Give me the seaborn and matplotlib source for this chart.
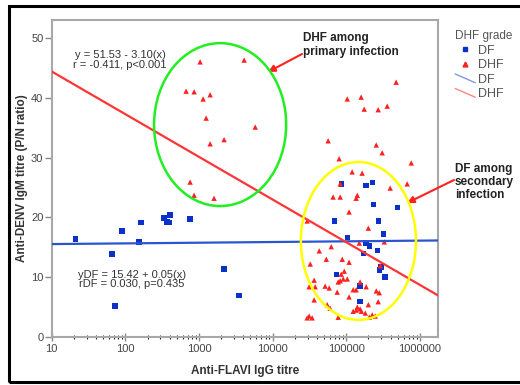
import numpy as np
import pandas as pd
import matplotlib.pyplot as plt
import seaborn as sns
from matplotlib.lines import Line2D
from matplotlib.patches import Ellipse, Rectangle
from matplotlib.legend_handler import HandlerBase

# DF cases: anti-FLAVI IgG titre vs anti-DENV IgM P/N ratio
df_titre = [21, 66, 72, 90, 163, 153, 336, 369, 393, 405, 757, 2190, 3510,
            232800, 493000, 68700, 272000, 318000, 103000, 186000, 205000,
            263000, 170000, 280000, 297000, 337000, 72900, 154000, 154000,
            85300, 186000, 225000]
df_pn = [16.4, 13.9, 5.2, 17.7, 19.1, 15.9, 19.9, 19.2, 19.1, 20.4, 19.7, 11.4, 6.9,
         22.2, 21.6, 19.4, 19.4, 17.2, 16.6, 15.7, 15.2,
         14.5, 14.0, 11.2, 11.7, 10.0, 10.4, 8.5, 5.9,
         25.6, 25.3, 25.8]

# DHF cases
dhf_titre = [1035, 4100, 668, 858, 1137, 1416, 1250, 5800, 2190, 1416, 757, 858, 1600,
             475000, 103000, 159000, 175000, 271000, 359000, 56700, 255000, 307000,
             80000, 762000, 120000, 164000, 671000, 394000, 82600,
             66200, 82600, 141000, 136000, 109000, 29400, 199000, 328000, 150000, 42900,
             62400, 32400, 53500, 88100, 109000, 289000, 93800, 85300, 90800, 82600,
             103000, 77600, 154000, 36600, 31300, 37800, 51600, 58600, 75200, 124000,
             136000, 186000, 255000, 280000, 109000, 199000, 271000, 36600, 55100, 60400,
             141000, 154000, 136000, 124000, 160000, 77600, 225000, 247000, 205000, 29400,
             34400, 31300, 181000]
dhf_pn = [46.0, 46.3, 41.1, 41.0, 39.8, 40.5, 36.6, 35.1, 33.0, 32.3, 25.9, 23.7, 23.2,
          42.6, 39.8, 40.1, 38.1, 38.0, 38.6, 32.8, 32.1, 30.8,
          29.8, 29.1, 27.6, 27.4, 25.6, 24.9, 25.6,
          23.4, 23.4, 23.7, 23.2, 20.9, 19.4, 18.2, 15.9, 15.7, 14.4,
          15.1, 12.2, 13.0, 13.0, 12.5, 11.9, 11.0, 10.5, 9.7, 9.4,
          9.7, 9.2, 9.2, 9.5, 8.4, 8.4, 8.5, 8.2, 7.5, 7.9,
          7.9, 8.4, 7.7, 7.4, 6.7, 5.4, 5.9, 6.2, 5.4, 4.8,
          5.0, 4.7, 4.5, 4.3, 4.3, 3.3, 3.7, 3.5, 3.3, 3.2,
          3.2, 3.5, 4.0]

# fitted lines y = a + b*ln(x)
df_fit = (15.42, 0.05)
dhf_fit = (51.53, -3.10)

xtick_vals = [10, 100, 1000, 10000, 100000, 1000000]
xtick_labels = ['10', '100', '1000', '10000', '100000', '1000000']
ytick_vals = [0, 10, 20, 30, 40, 50]

blue = '#0a32c8'
red = '#ff2020'

data = pd.DataFrame({
    'titre': df_titre + dhf_titre,
    'pn': df_pn + dhf_pn,
    'grade': ['DF'] * len(df_titre) + ['DHF'] * len(dhf_titre),
})

sns.set_style('white')
plt.rcParams['font.family'] = ['Liberation Sans', 'DejaVu Sans']

W, H = 520, 385
fig = plt.figure(figsize=(W / 100, H / 100), dpi=100)
ax = fig.add_axes([51.7 / W, 1 - 337 / H, (438 - 51.7) / W, (337 - 20) / H])

def px(x, y):
    return (x / W, 1 - y / H)

sns.scatterplot(data=data, x='titre', y='pn', hue='grade', style='grade',
                markers={'DF': 's', 'DHF': '^'}, palette={'DF': blue, 'DHF': red},
                s=15, linewidth=0, legend=False, ax=ax, zorder=3)

ax.set_xscale('log')
xmin, xmax = 10, 10 ** 6.245
ax.set_xlim(xmin, xmax)
ax.set_ylim(0, 53)

xs = np.array([xmin, xmax])
ax.plot(xs, df_fit[0] + df_fit[1] * np.log(xs), color='#2a55d0', lw=1.6, zorder=4)
ax.plot(xs, dhf_fit[0] + dhf_fit[1] * np.log(xs), color='#ff3535', lw=1.6, zorder=4)

ax.set_xticks(xtick_vals)
ax.set_xticklabels(xtick_labels)
ax.set_yticks(ytick_vals)
ax.tick_params(axis='both', labelsize=8, labelcolor='#444444', color='#888888', width=1)
ax.tick_params(axis='x', which='major', direction='inout', length=6, bottom=True, pad=2)
ax.tick_params(axis='x', which='minor', direction='inout', length=3, bottom=True, width=0.8)
ax.tick_params(axis='y', direction='out', length=5, left=True, pad=1)
for sp in ax.spines.values():
    sp.set_color('#a8a8a8')
    sp.set_linewidth(1.5)

ax.set_xlabel('Anti-FLAVI IgG titre', fontsize=8.5, fontweight='bold', color='#333333')
ax.set_ylabel('Anti-DENV IgM titre (P/N ratio)', fontsize=8.5, fontweight='bold', color='#333333')
ax.xaxis.set_label_coords(0.5, -0.088)
ax.yaxis.set_label_coords(-0.062, 0.5)

# ellipses marking groups
ax.add_patch(Ellipse((0.436, 0.670), 0.342, 0.514, transform=ax.transAxes,
                     fill=False, ec='#22ee22', lw=1.8, zorder=5))
ax.add_patch(Ellipse((0.794, 0.303), 0.298, 0.498, transform=ax.transAxes,
                     fill=False, ec='#ffff00', lw=1.8, zorder=5))

# equation texts
ax.text(0.177, 0.874, 'y = 51.53 - 3.10(x)\nr = -0.411, p<0.001', transform=ax.transAxes,
        ha='center', va='center', fontsize=8, color='#333333', linespacing=0.95)
ax.text(0.208, 0.181, 'yDF = 15.42 + 0.05(x)\nrDF = 0.030, p=0.435', transform=ax.transAxes,
        ha='center', va='center', fontsize=8, color='#333333', linespacing=0.95)

# callouts
fig.text(*px(303, 45), 'DHF among\nprimary infection', fontsize=8.5, fontweight='bold',
         color='#222222', va='center', ha='left', linespacing=1.15)
fig.text(*px(455, 182), 'DF among\nsecondary\ninfection', fontsize=8.5, fontweight='bold',
         color='#222222', va='center', ha='left', linespacing=1.1)
ax.annotate('', xy=px(268, 72), xytext=px(302, 54), xycoords='figure fraction',
            textcoords='figure fraction',
            arrowprops=dict(arrowstyle='-|>', color='#ff2020', lw=1.5, mutation_scale=10,
                            shrinkA=0, shrinkB=0))
ax.annotate('', xy=px(407, 203), xytext=px(454, 180), xycoords='figure fraction',
            textcoords='figure fraction',
            arrowprops=dict(arrowstyle='-|>', color='#ff2020', lw=1.5, mutation_scale=10,
                            shrinkA=0, shrinkB=0))


class DiagLine(HandlerBase):
    def create_artists(self, legend, orig, xd, yd, width, height, fontsize, trans):
        ln = Line2D([-xd, -xd + width], [-yd + height, -yd], color=orig.get_color(),
                    lw=orig.get_linewidth(), alpha=0.6, transform=trans)
        return [ln]


handles = [
    Line2D([], [], marker='s', ls='', color=blue, markersize=3.5),
    Line2D([], [], marker='^', ls='', color=red, markersize=3.5),
    Line2D([], [], color='#2a55d0', lw=1),
    Line2D([], [], color='#ff3535', lw=1),
]
labels = ['DF', 'DHF', 'DF', 'DHF']
leg = fig.legend(handles, labels, title='DHF grade', loc='upper left',
                 bbox_to_anchor=px(449, 24), frameon=False, fontsize=9,
                 title_fontsize=8.5, handlelength=1.6, handletextpad=0.2,
                 labelspacing=0.2, borderpad=0, alignment='left',
                 handler_map={handles[2]: DiagLine(), handles[3]: DiagLine()})
leg.get_title().set_color('#555555')
for t in leg.get_texts():
    t.set_color('#555555')

# outer black frame
fig.patches.append(Rectangle((9 / W, 3 / H), 1.0, 376 / H, transform=fig.transFigure,
                             fill=False, ec='black', lw=2.2))

fig.savefig('out.png', dpi=100)
